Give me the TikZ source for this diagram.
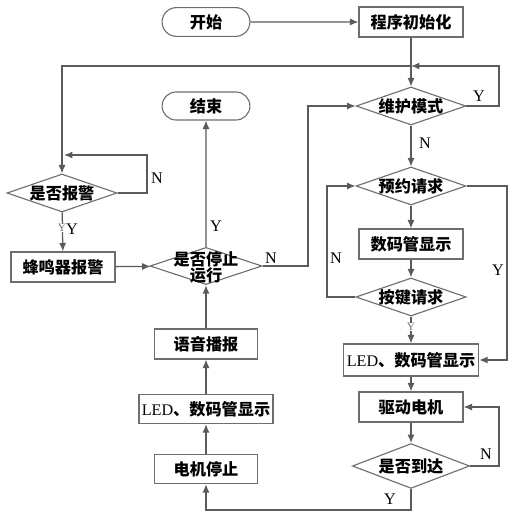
\documentclass[tikz,border=0pt]{standalone}
\usepackage{fontspec}
\setmainfont{Liberation Serif}
\newfontfamily\cjk{Noto Sans CJK SC}
\usepackage{xcolor}
\usetikzlibrary{arrows.meta,shapes.geometric,shapes.misc}
\definecolor{lineGray}{HTML}{5A5A5A}
\definecolor{boxGray}{HTML}{6E6E6E}

\begin{document}
\begin{tikzpicture}[x=0.025cm, y=-0.025cm, >={Latex[length=6pt,width=5pt]},
  font=\fontsize{11.5}{12.5}\selectfont,
  ln/.style={draw=lineGray,line width=0.9pt},
  term/.style={rounded rectangle,draw=boxGray,line width=0.8pt,minimum width=2.43cm,minimum height=0.72cm,font=\fontsize{11.5}{12.5}\selectfont\cjk\bfseries},
  proc/.style={rectangle,draw=boxGray,line width=0.8pt,minimum width=2.6cm,minimum height=0.75cm,inner sep=2pt,font=\fontsize{11.5}{12.5}\selectfont\cjk\bfseries},
  dec/.style={diamond,draw=boxGray,line width=0.8pt,aspect=2.9,inner sep=0pt,minimum width=2.73cm,minimum height=0.95cm,font=\fontsize{11.5}{12.5}\selectfont\cjk\bfseries},
  yn/.style={font=\fontsize{11.5}{12.5}\selectfont\rmfamily},
  tiny/.style={font=\fontsize{8}{9}\selectfont\rmfamily,text=black!55,fill=white,inner sep=0.5pt}]
\useasboundingbox (0,0) rectangle (523,530);
% --- main column on the right ---
\node[term] (start) at (206,22) {开始};
\node[proc] (init) at (411,22) {程序初始化};
\node[dec] (maint) at (411,106) {维护模式};
\node[dec] (book) at (411,186) {预约请求};
\node[proc] (seg) at (411,244) {数码管显示};
\node[dec] (key) at (411,297) {按键请求};
\node[proc,minimum width=3.38cm,minimum height=0.8cm] (led2) at (411,360) {{\rmfamily\mdseries LED}、数码管显示};
\node[proc] (drive) at (411,407) {驱动电机};
\node[dec,minimum width=2.93cm,minimum height=1.12cm] (arrive) at (411,466) {是否到达};
% --- alarm branch on the left ---
\node[dec,minimum width=2.75cm] (alarm) at (62,193) {是否报警};
\node[proc] (buzz) at (63,267) {蜂鸣器报警};
% --- middle column ---
\node[term,minimum height=0.7cm] (fin) at (206,106) {结束};
\node[dec,minimum width=2.8cm,minimum height=0.93cm] (stop) at (206,266) {};
\node[align=center,font=\fontsize{11.5}{11.5}\selectfont\cjk\bfseries] (stoptxt) at (206,267) {是否停止\\运行};
\node[proc,minimum width=2.58cm] (voice) at (206,344) {语音播报};
\node[proc,minimum width=3.3cm,minimum height=0.73cm] (led1) at (206,409) {{\rmfamily\mdseries LED}、数码管显示};
\node[proc,minimum width=2.58cm,minimum height=0.73cm] (motoroff) at (206,469) {电机停止};
\coordinate (j1) at (411,66);
\coordinate (a1) at (64,155);
% --- connectors ---
\draw[ln,->] (start) -- (init);
\draw[ln,->] (init) -- (maint);
\draw[ln,->] (maint.east) -- (499,106) |- (j1);
\draw[ln,->] (j1) -| (alarm.north);
\draw[ln,->] (alarm.east) -- (147,193) |- (a1);
\draw[ln,->] (alarm) -- (buzz);
\draw[ln,->] (buzz) -- (stop);
\draw[ln,->] (stop) -- (fin);
\draw[ln,->] (stop.east) -- (308,266) |- (maint.west);
\draw[ln,->] (voice) -- (stop);
\draw[ln,->] (led1) -- (voice);
\draw[ln,->] (motoroff) -- (led1);
\draw[ln,->] (maint) -- (book);
\draw[ln,->] (book) -- (seg);
\draw[ln,->] (seg) -- (key);
\draw[ln,->] (key.west) -- (327,297) |- (book.west);
\draw[ln,->] (key) -- (led2);
\draw[ln,->] (book.east) -- (507,186) |- (led2.east);
\draw[ln,->] (led2) -- (drive);
\draw[ln,->] (drive) -- (arrive);
\draw[ln,->] (arrive.east) -- (499,466) |- (drive.east);
\draw[ln,->] (arrive.south) -- (411,510) -| (motoroff.south);
% --- Y / N labels ---
\node[yn] (y1) at (479,96) {Y};
\node[yn] (n1) at (425,143) {N};
\node[yn] (n2) at (157,178) {N};
\node[tiny] (y2s) at (62,228) {Y};
\node[yn] (y2) at (72,229) {Y};
\node[yn] (y3) at (216,226) {Y};
\node[yn] (n3) at (271,258) {N};
\node[yn] (n4) at (336,258) {N};
\node[yn] (y4) at (498,270) {Y};
\node[tiny] (y5s) at (411,327) {Y};
\node[yn] (n5) at (486,454) {N};
\node[yn] (y6) at (390,499) {Y};
\end{tikzpicture}
\end{document}
